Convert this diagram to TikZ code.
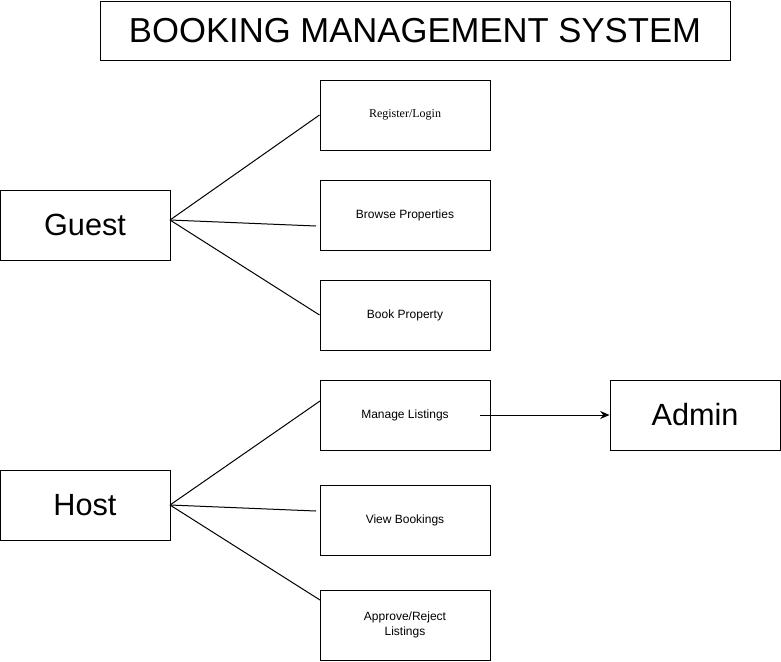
\documentclass[tikz,border=0pt]{standalone}
\usepackage{fontspec}
\setmainfont{Liberation Sans}
\newfontfamily\timesfont{Liberation Serif}
\usetikzlibrary{arrows.meta}

\tikzset{
    caja/.style={draw, line width=0.75pt, minimum width=127.5pt, minimum height=52.5pt, inner sep=0pt, font=\fontsize{9}{11}\selectfont, align=center},
    actor/.style={caja, font=\fontsize{23}{27}\selectfont},
    linea/.style={line width=0.75pt}
}

\begin{document}
\begin{tikzpicture}[x=0.75pt, y=-0.75pt]
            % Marco de la figura
            \useasboundingbox (0,0) rectangle (781,661);

            % Titulo
            \node[draw, line width=0.75pt, minimum width=472.5pt, minimum height=44.25pt, inner sep=0pt, font=\fontsize{26}{30}\selectfont] (titulo) at (415,30.5) {BOOKING MANAGEMENT SYSTEM};

            % Actores
            \node[actor] (guest) at (85,225) {Guest};
            \node[actor] (host) at (85,505) {Host};
            \node[actor] (admin) at (695,415) {Admin};

            % Casos de uso del huesped
            \node[caja, font=\timesfont\fontsize{9}{11}\selectfont] (registro) at (405,115) {Register/Login};
            \node[caja] (browse) at (405,215) {Browse Properties};
            \node[caja] (book) at (405,315) {Book Property};

            % Casos de uso del anfitrion
            \node[caja] (manage) at (405,415) {Manage Listings};
            \node[caja] (view) at (405,520) {View Bookings};
            \node[caja] (approve) at (405,625) {Approve/Reject\\ Listings};

            % Puntos de union
            \coordinate (g0) at (170,220);
            \coordinate (g2) at (316,226);
            \coordinate (h0) at (170,505);
            \coordinate (h1) at (320,401);
            \coordinate (h2) at (316,511);
            \coordinate (h3) at (320,600);
            \coordinate (m0) at (480,415);

            % Lineas desde Guest
            \draw[linea] (g0) -- (registro.west);
            \draw[linea] (g0) -- (g2);
            \draw[linea] (g0) -- (book.west);

            % Lineas desde Host
            \draw[linea] (h0) -- (h1);
            \draw[linea] (h0) -- (h2);
            \draw[linea] (h0) -- (h3);

            % Flecha hacia Admin
            \draw[linea, -{Stealth[length=7pt, width=6pt]}] (m0) -- (admin.west);

        \end{tikzpicture}
\end{document}
